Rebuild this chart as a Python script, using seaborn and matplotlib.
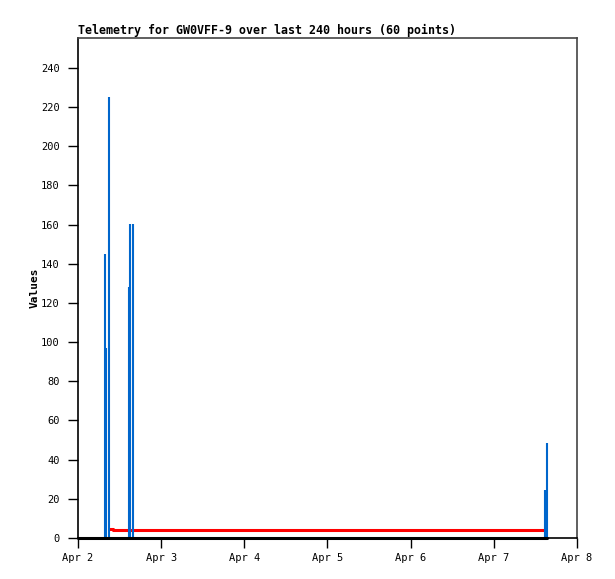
import numpy as np
import pandas as pd
import matplotlib
matplotlib.use("Agg")
import matplotlib.pyplot as plt
import matplotlib.dates as mdates
import seaborn as sns

sns.set_style("white")
plt.rcParams['font.family'] = ['DejaVu Sans Mono']
plt.rcParams['text.color'] = 'black'
plt.rcParams['axes.labelcolor'] = 'black'
plt.rcParams['xtick.color'] = 'black'
plt.rcParams['ytick.color'] = 'black'

start = pd.Timestamp("2024-04-02 00:00")

# blue series (impulses): hours after Apr 2 00:00, values
spike_hours = [7.9, 8.2, 8.95, 14.6, 14.9, 15.8, 134.9, 135.2]
spike_vals = [145, 97, 225, 128, 160.5, 160.5, 24.5, 48.7]

# red series (steps)
red_hours = [8.95, 10.1, 13.0, 134.8]
red_vals = [4.8, 4.3, 3.9, 3.9]

# black series
black_hours = [0.0, 135.2]
black_vals = [0, 0]

y_ticks = [0, 20, 40, 60, 80, 100, 120, 140, 160, 180, 200, 220, 240]

def to_time(h):
    return [start + pd.Timedelta(hours=x) for x in h]

fig = plt.figure(figsize=(6.15, 5.79), dpi=100)
ax = fig.add_axes([78 / 615, 1 - 538 / 579, 499 / 615, 500 / 579])

black = pd.DataFrame({"t": to_time(black_hours), "v": black_vals})
sns.lineplot(data=black, x="t", y="v", ax=ax, color="black", lw=2.2,
             drawstyle="steps-post", clip_on=False, zorder=4)

ax.vlines(to_time(spike_hours), 0, spike_vals, color="#0066cc", lw=1.5, zorder=3)

red = pd.DataFrame({"t": to_time(red_hours), "v": red_vals})
sns.lineplot(data=red, x="t", y="v", ax=ax, color="red", lw=2.2,
             drawstyle="steps-post", zorder=2)

ax.set_xlim(start, start + pd.Timedelta(days=6))
ax.set_ylim(0, 255.3)
ax.set_yticks(y_ticks)
ax.xaxis.set_major_locator(mdates.DayLocator())
ax.xaxis.set_major_formatter(mdates.DateFormatter("%b %-d"))

ax.tick_params(axis="both", direction="out", length=7, width=1, labelsize=7.5,
               left=True, bottom=True, color="black")
ax.tick_params(axis="x", pad=4)
ax.tick_params(axis="y", pad=6)
ax.spines["left"].set_color("black")
ax.spines["bottom"].set_color("black")
ax.spines["top"].set_color("#444444")
ax.spines["right"].set_color("#444444")
for s in ax.spines.values():
    s.set_linewidth(1.2)

ax.set_xlabel("")
ax.set_ylabel("Values", fontsize=8, fontweight="bold", labelpad=1)
ax.set_title("Telemetry for GW0VFF-9 over last 240 hours (60 points)",
             loc="left", fontsize=8.4, fontweight="bold", pad=3)

fig.savefig("out.png", dpi=100)
